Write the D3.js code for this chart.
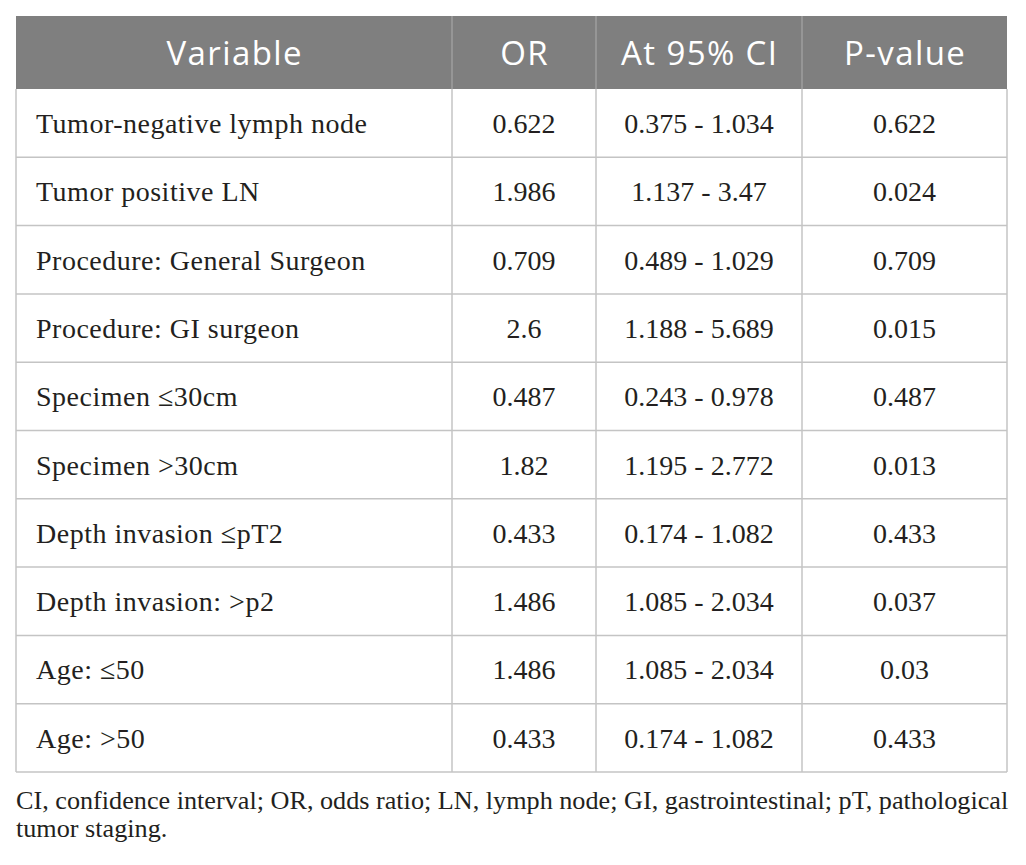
<!DOCTYPE html>
<html lang="en">
<head>
    <meta charset="UTF-8">
    <script src="https://d3js.org/d3.v7.min.js"></script>
    <title>Odds ratios table</title>
    <style>
        html, body { margin: 0; padding: 0; background: #fff; }
        .head { font-family: "Open Sans", Lato, sans-serif; fill: #fff; letter-spacing: 1.4px; }
        .cell { font-family: "Liberation Serif", "Times New Roman", serif; fill: #231f20; }
        .note { font-family: "Liberation Serif", "Times New Roman", serif; fill: #231f20; }
    </style>
</head>
<body>
    <div id="chart"></div>
    <script>
        // Table contents
        const headers = ["Variable", "OR", "At 95% CI", "P-value"];
        const variables = [
            "Tumor-negative lymph node",
            "Tumor positive LN",
            "Procedure: General Surgeon",
            "Procedure: GI surgeon",
            "Specimen \u226430cm",
            "Specimen >30cm",
            "Depth invasion \u2264pT2",
            "Depth invasion: >p2",
            "Age: \u226450",
            "Age: >50"
        ];
        const oddsRatios = ["0.622", "1.986", "0.709", "2.6", "0.487", "1.82", "0.433", "1.486", "1.486", "0.433"];
        const confIntervals = ["0.375 - 1.034", "1.137 - 3.47", "0.489 - 1.029", "1.188 - 5.689", "0.243 - 0.978",
            "1.195 - 2.772", "0.174 - 1.082", "1.085 - 2.034", "1.085 - 2.034", "0.174 - 1.082"];
        const pValues = ["0.622", "0.024", "0.709", "0.015", "0.487", "0.013", "0.433", "0.037", "0.03", "0.433"];
        const footnote = [
            "CI, confidence interval; OR, odds ratio; LN, lymph node; GI, gastrointestinal; pT, pathological",
            "tumor staging."
        ];

        const rows = variables.map((v, i) => [v, oddsRatios[i], confIntervals[i], pValues[i]]);

        // Layout
        const width = 1026;
        const height = 865;
        const tLeft = 16, tRight = 1007;
        const tTop = 16, headerH = 73;
        const rowH = 68.3;
        const colEdges = [tLeft, 452, 596, 802, tRight];

        const svg = d3.select("#chart")
            .append("svg")
            .attr("width", width)
            .attr("height", height);

        svg.append("rect")
            .attr("width", width)
            .attr("height", height)
            .attr("fill", "#fff");

        const y = d3.scaleLinear()
            .domain([0, rows.length])
            .range([tTop + headerH, tTop + headerH + rowH * rows.length]);

        const colCenter = i => (colEdges[i] + colEdges[i + 1]) / 2;

        // Header band
        svg.append("rect")
            .attr("x", tLeft)
            .attr("y", tTop)
            .attr("width", tRight - tLeft)
            .attr("height", headerH)
            .attr("fill", "#7f7f7f");

        svg.selectAll(".head-sep")
            .data(colEdges.slice(1, -1))
            .enter()
            .append("line")
            .attr("x1", d => d).attr("x2", d => d)
            .attr("y1", tTop).attr("y2", tTop + headerH)
            .attr("stroke", "#a6a6a6")
            .attr("stroke-width", 1.2);

        svg.selectAll(".head")
            .data(headers)
            .enter()
            .append("text")
            .attr("class", "head")
            .attr("x", (d, i) => colCenter(i) + 0.7)
            .attr("y", tTop + 49)
            .attr("text-anchor", "middle")
            .attr("font-size", 33)
            .text(d => d);

        // Grid lines
        const grid = svg.append("g")
            .attr("stroke", "#c4c4c4")
            .attr("stroke-width", 1.5);

        grid.selectAll(".hline")
            .data(d3.range(1, rows.length + 1))
            .enter()
            .append("line")
            .attr("x1", tLeft).attr("x2", tRight)
            .attr("y1", d => y(d)).attr("y2", d => y(d));

        grid.selectAll(".vline")
            .data(colEdges)
            .enter()
            .append("line")
            .attr("x1", d => d).attr("x2", d => d)
            .attr("y1", y(0)).attr("y2", y(rows.length));

        // Cells
        const rowG = svg.selectAll(".row")
            .data(rows)
            .enter()
            .append("g")
            .attr("transform", (d, i) => `translate(0,${y(i) + 44})`);

        rowG.selectAll("text")
            .data(d => d)
            .enter()
            .append("text")
            .attr("class", "cell")
            .attr("font-size", 28)
            .attr("letter-spacing", (d, i) => i === 0 ? 0.5 : 0)
            .attr("x", (d, i) => i === 0 ? tLeft + 20 : colCenter(i))
            .attr("text-anchor", (d, i) => i === 0 ? "start" : "middle")
            .text(d => d);

        // Footnote
        svg.selectAll(".note")
            .data(footnote)
            .enter()
            .append("text")
            .attr("class", "note")
            .attr("x", tLeft)
            .attr("y", (d, i) => 809 + i * 28)
            .attr("font-size", 26.2)
            .text(d => d);
    </script>
</body>
</html>
